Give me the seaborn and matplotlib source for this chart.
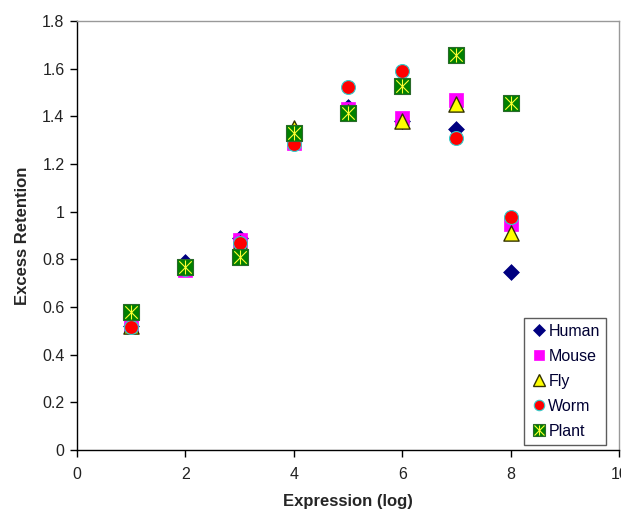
import pandas as pd
import seaborn as sns
import matplotlib.pyplot as plt
from matplotlib.lines import Line2D

# values
expression = [1, 2, 3, 4, 5, 6, 7, 8]
human = [0.52, 0.79, 0.89, 1.30, 1.44, 1.38, 1.345, 0.745]
mouse = [0.52, 0.755, 0.883, 1.29, 1.43, 1.395, 1.47, 0.948]
fly = [0.52, 0.77, 0.87, 1.35, 1.42, 1.38, 1.45, 0.91]
worm = [0.517, 0.76, 0.867, 1.282, 1.523, 1.59, 1.31, 0.976]
plant = [0.58, 0.769, 0.808, 1.332, 1.414, 1.526, 1.656, 1.454]

species = ["Human", "Mouse", "Fly", "Worm", "Plant"]
values = [human, mouse, fly, worm, plant]

rows = []
for name, vals in zip(species, values):
    for x, y in zip(expression, vals):
        rows.append({"Species": name, "Expression": x, "Retention": y})
df = pd.DataFrame(rows)

styles = {
    "Human": dict(marker="D", color="#000080", edgecolor="#000080", s=65, linewidth=0.5),
    "Mouse": dict(marker="s", color="#ff00ff", edgecolor="#ff00ff", s=110, linewidth=0.5),
    "Fly": dict(marker="^", color="#ffff00", edgecolor="#333300", s=120, linewidth=1.0),
    "Worm": dict(marker="o", color="#ff0000", edgecolor="#33cccc", s=100, linewidth=0.8),
    "Plant": dict(marker="s", color="#008000", edgecolor="#2a6a2a", s=140, linewidth=0.8),
}

sns.set_style("white")
plt.rcParams["font.family"] = ["Liberation Sans", "DejaVu Sans"]

fig = plt.figure(figsize=(6.21, 5.12), dpi=100)
ax = fig.add_axes([0.124, 0.121, 0.873, 0.838])

handles = []
for name in species:
    sub = df[df["Species"] == name]
    st = styles[name]
    sns.scatterplot(data=sub, x="Expression", y="Retention", ax=ax,
                    marker=st["marker"], color=st["color"], edgecolor=st["edgecolor"],
                    s=st["s"], linewidth=st["linewidth"], zorder=3, legend=False)
    h = Line2D([], [], linestyle="none", marker=st["marker"], markerfacecolor=st["color"],
               markeredgecolor=st["edgecolor"], markersize=st["s"] ** 0.5 * 0.75,
               markeredgewidth=st["linewidth"])
    if name == "Plant":
        ax.scatter(sub["Expression"], sub["Retention"], marker="x", color="#ffff33",
                   s=80, linewidth=0.8, zorder=4)
        ax.scatter(sub["Expression"], sub["Retention"], marker="|", color="#ffff33",
                   s=100, linewidth=0.8, zorder=4)
        star1 = Line2D([], [], linestyle="none", marker="x", color="#ffff33",
                       markersize=6.5, markeredgewidth=0.8)
        star2 = Line2D([], [], linestyle="none", marker="|", color="#ffff33",
                       markersize=7.5, markeredgewidth=0.8)
        h = (h, star1, star2)
    handles.append(h)

ax.set_xlim(0, 10)
ax.set_ylim(0, 1.8)
ax.set_xticks([0, 2, 4, 6, 8, 10])
ax.set_yticks([0, 0.2, 0.4, 0.6, 0.8, 1.0, 1.2, 1.4, 1.6, 1.8])
ax.set_yticklabels(["0", "0.2", "0.4", "0.6", "0.8", "1", "1.2", "1.4", "1.6", "1.8"])
ax.tick_params(axis="both", direction="out", length=5, width=1, colors="black",
               labelsize=11.5, labelcolor="#222222")
ax.tick_params(axis="x", pad=7)
ax.tick_params(axis="y", pad=4)
ax.xaxis.set_ticks_position("bottom")
ax.yaxis.set_ticks_position("left")

for side in ["left", "bottom"]:
    ax.spines[side].set_color("black")
    ax.spines[side].set_linewidth(1.0)
for side in ["top", "right"]:
    ax.spines[side].set_color("#999999")
    ax.spines[side].set_linewidth(1.0)

ax.set_xlabel("Expression (log)", fontsize=12, fontweight="bold", labelpad=9)
ax.set_ylabel("Excess Retention", fontsize=12, fontweight="bold", labelpad=9)

leg = ax.legend(handles, species, loc="lower right", bbox_to_anchor=(0.976, 0.012),
                frameon=True, fancybox=False, fontsize=11.5, handletextpad=0.1,
                handlelength=1.0, borderpad=0.4, labelspacing=0.62, borderaxespad=0.0)
leg.get_frame().set_edgecolor("#333333")
leg.get_frame().set_linewidth(1.0)
for t in leg.get_texts():
    t.set_color("#000033")

plt.savefig("out.png", dpi=100)
plt.close()
